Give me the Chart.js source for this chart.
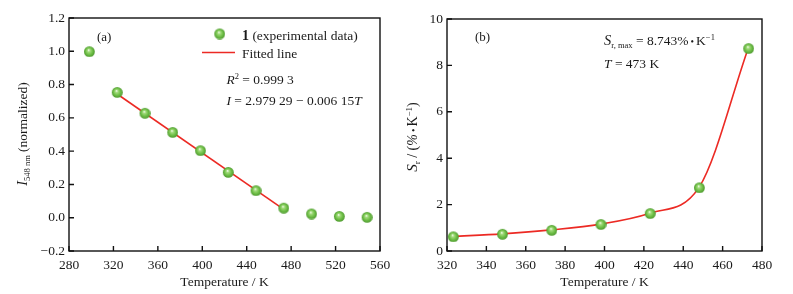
<!DOCTYPE html>
<html><head><meta charset="utf-8">
<script src="https://cdn.jsdelivr.net/npm/chart.js@4.4.1/dist/chart.umd.min.js"></script>
<style>
body{margin:0;background:#fff;width:793px;height:294px;overflow:hidden;position:relative}
.w{position:absolute;top:0;height:294px}
</style></head><body>
<div class="w" style="left:0;width:400px"><canvas id="ca" width="400" height="294"></canvas></div>
<div class="w" style="left:400px;width:393px"><canvas id="cb" width="393" height="294"></canvas></div>
<script>
// ---- data (a) ----
const tempA = [298, 323, 348, 373, 398, 423, 448, 473, 498, 523, 548];
const intensityA = [1.0, 0.755, 0.63, 0.515, 0.405, 0.275, 0.165, 0.06, 0.025, 0.01, 0.005];
const fitT = [323, 473];
const fitI = [0.745, 0.052];
const xTicksA = [280, 320, 360, 400, 440, 480, 520, 560];
const yTicksA = [-0.2, 0, 0.2, 0.4, 0.6, 0.8, 1.0, 1.2];
// ---- data (b) ----
const tempB = [323, 348, 373, 398, 423, 448, 473];
const srB = [0.63, 0.74, 0.91, 1.16, 1.63, 2.74, 8.743];
const xTicksB = [320, 340, 360, 380, 400, 420, 440, 460, 480];
const yTicksB = [0, 2, 4, 6, 8, 10];

const SERIF = '"Liberation Serif","DejaVu Serif",serif';
const RED = '#ec2a24';

function makeBall(r){
  const c=document.createElement('canvas');
  const s=2*r+2; c.width=s; c.height=s;
  const g=c.getContext('2d'); const cx=s/2, cy=s/2;
  const gr=g.createRadialGradient(cx-0.8,cy-1.6,0.2,cx,cy,r);
  gr.addColorStop(0,'#f6fff2');
  gr.addColorStop(0.22,'#a6dc80');
  gr.addColorStop(0.6,'#72c24a');
  gr.addColorStop(1,'#4e9a2e');
  g.fillStyle=gr; g.beginPath(); g.arc(cx,cy,r,0,Math.PI*2); g.fill();
  return c;
}
const ball = makeBall(5.4);

function richWidth(ctx, segs){
  let w=0; segs.forEach(s=>{ctx.font=s.f; w+=ctx.measureText(s.t).width;}); return w;
}
function drawRich(ctx, x, y, segs){
  ctx.textBaseline='alphabetic'; ctx.textAlign='left'; ctx.fillStyle='#1a1a1a';
  segs.forEach(s=>{ctx.font=s.f; ctx.fillText(s.t, x, y+(s.dy||0)); x+=ctx.measureText(s.t).width;});
}
const F = (sz, st)=> (st?st+' ':'')+sz+'px '+SERIF;

function frameAndTicks(chart){
  const ctx=chart.ctx, a=chart.chartArea;
  ctx.save();
  ctx.strokeStyle='#111'; ctx.lineWidth=1.4;
  ctx.strokeRect(a.left, a.top, a.right-a.left, a.bottom-a.top);
  const xs=chart.scales.x, ys=chart.scales.y;
  ctx.beginPath();
  xs.ticks.forEach(t=>{const p=xs.getPixelForValue(t.value); ctx.moveTo(p,a.bottom); ctx.lineTo(p,a.bottom-5);});
  ys.ticks.forEach(t=>{const p=ys.getPixelForValue(t.value); ctx.moveTo(a.left,p); ctx.lineTo(a.left+5,p);});
  ctx.stroke();
  ctx.restore();
}

function axisX(min,max,ticksArr){
  return {type:'linear',min,max,
    afterBuildTicks:s=>{s.ticks=ticksArr.map(v=>({value:v}));},
    afterFit:s=>{s.height=43;},
    grid:{display:false,drawTicks:false},border:{display:false},
    ticks:{padding:6,color:'#1a1a1a',font:{family:SERIF,size:13.5},maxRotation:0,autoSkip:false,
      callback:v=>String(v)}};
}
function axisY(min,max,ticksArr,width,fmt){
  return {type:'linear',min,max,
    afterBuildTicks:s=>{s.ticks=ticksArr.map(v=>({value:v}));},
    afterFit:s=>{s.width=width;},
    grid:{display:false,drawTicks:false},border:{display:false},
    ticks:{padding:4,color:'#1a1a1a',font:{family:SERIF,size:13.5},autoSkip:false,callback:fmt}};
}

// ---------- Chart (a) ----------
new Chart(document.getElementById('ca'),{
  type:'scatter',
  data:{datasets:[
    {label:'1 (experimental data)',data:tempA.map((t,i)=>({x:t,y:intensityA[i]})),pointStyle:ball,pointRadius:5,order:0},
    {label:'Fitted line',type:'line',data:fitT.map((t,i)=>({x:t,y:fitI[i]})),borderColor:RED,borderWidth:1.6,pointRadius:0,fill:false,order:1}
  ]},
  options:{responsive:false,animation:false,
    layout:{padding:{left:0,right:20,top:18,bottom:0}},
    plugins:{legend:{display:false},tooltip:{enabled:false}},
    scales:{x:axisX(280,560,xTicksA),y:axisY(-0.2,1.2,yTicksA,69,v=>v.toFixed(1).replace('-','\u2212'))}
  },
  plugins:[{id:'deco',afterDraw(chart){
    frameAndTicks(chart);
    const ctx=chart.ctx;
    ctx.save();
    drawRich(ctx,97,41,[{t:'(a)',f:F(13)}]);
    ctx.drawImage(ball,219.3-ball.width/2,33.5-ball.height/2);
    drawRich(ctx,242,39.5,[{t:'1',f:F(14,'bold')},{t:' (experimental data)',f:F(13.5)}]);
    ctx.strokeStyle=RED; ctx.lineWidth=1.6; ctx.beginPath(); ctx.moveTo(202,52.5); ctx.lineTo(235,52.5); ctx.stroke();
    drawRich(ctx,242,57.5,[{t:'Fitted line',f:F(13.5)}]);
    drawRich(ctx,226.5,83.5,[{t:'R',f:F(13.5,'italic')},{t:'2',f:F(8.5),dy:-5},{t:' = 0.999 3',f:F(13.5)}]);
    drawRich(ctx,226.5,105,[{t:'I',f:F(13.5,'italic')},{t:' = 2.979 29 \u2212 0.006 15',f:F(13.5)},{t:'T',f:F(13.5,'italic')}]);
    const xt=[{t:'Temperature / K',f:F(13.5)}];
    drawRich(ctx,224.5-richWidth(ctx,xt)/2,286,xt);
    const yt=[{t:'I',f:F(14.5,'italic')},{t:'548 nm',f:F(8.5),dy:3},{t:' (normalized)',f:F(13.5)}];
    ctx.translate(27,134); ctx.rotate(-Math.PI/2);
    drawRich(ctx,-richWidth(ctx,yt)/2,0,yt);
    ctx.restore();
  }}]
});

// ---------- Chart (b) ----------
new Chart(document.getElementById('cb'),{
  type:'scatter',
  data:{datasets:[
    {label:'markers',data:tempB.map((t,i)=>({x:t,y:srB[i]})),pointStyle:ball,pointRadius:5,order:0},
    {label:'curve',type:'line',data:tempB.map((t,i)=>({x:t,y:srB[i]})),borderColor:RED,borderWidth:1.6,pointRadius:0,cubicInterpolationMode:'monotone',fill:false,order:1}
  ]},
  options:{responsive:false,animation:false,
    layout:{padding:{left:0,right:31,top:19,bottom:0}},
    plugins:{legend:{display:false},tooltip:{enabled:false}},
    scales:{x:axisX(320,480,xTicksB),y:axisY(0,10,yTicksB,47,v=>String(v))}
  },
  plugins:[{id:'deco',afterDraw(chart){
    frameAndTicks(chart);
    const ctx=chart.ctx;
    ctx.save();
    drawRich(ctx,75,41,[{t:'(b)',f:F(13)}]);
    drawRich(ctx,204,45,[{t:'S',f:F(14.5,'italic')},{t:'r, max',f:F(8.5),dy:3},{t:' = 8.743%',f:F(13.5)},{t:'\u2009\u2022\u2009',f:F(10)},{t:'K',f:F(13.5)},{t:'\u22121',f:F(8.5),dy:-5}]);
    drawRich(ctx,204,68,[{t:'T',f:F(13.5,'italic')},{t:' = 473 K',f:F(13.5)}]);
    const xt=[{t:'Temperature / K',f:F(13.5)}];
    drawRich(ctx,204.5-richWidth(ctx,xt)/2,286,xt);
    const yt=[{t:'S',f:F(15,'italic')},{t:'r',f:F(9),dy:3},{t:' / (',f:F(14)},{t:'%',f:F(14,'italic')},{t:'\u2009\u2022\u2009',f:F(10)},{t:'K',f:F(14)},{t:'\u22121',f:F(9),dy:-5},{t:')',f:F(14)}];
    ctx.translate(17,137); ctx.rotate(-Math.PI/2);
    drawRich(ctx,-richWidth(ctx,yt)/2,0,yt);
    ctx.restore();
  }}]
});
</script>
</body></html>
